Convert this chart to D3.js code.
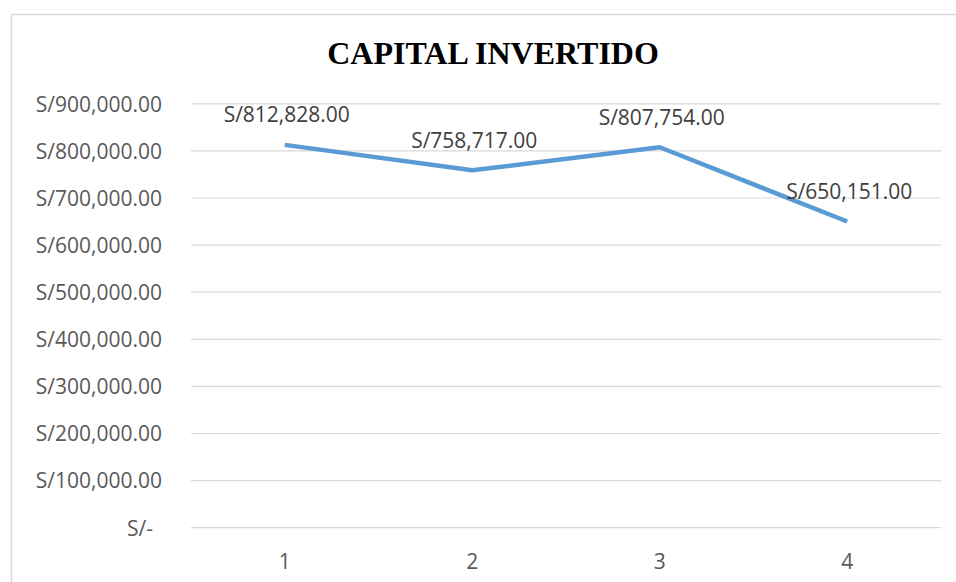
<!DOCTYPE html>
<html><head><meta charset="utf-8">
<script src="https://cdn.jsdelivr.net/npm/d3@7"></script>
<style>body{margin:0;background:#fff;} svg{display:block;}</style>
</head><body><svg id="c" width="956" height="582"></svg>
<script>
const title = "CAPITAL INVERTIDO";
const categories = ["1","2","3","4"];
const values = [812828, 758717, 807754, 650151];
const yTicks = [0,100000,200000,300000,400000,500000,600000,700000,800000,900000];

(function(){
const svg = d3.select("#c");
const pLeft = 191, pRight = 941, pTop = 103.8, pBottom = 527.7;
const font = "'Open Sans', sans-serif";
const fs = 21;

svg.append("rect").attr("x",11.5).attr("y",14.5).attr("width",970).attr("height",600)
  .attr("fill","#fff").attr("stroke","#d9d9d9").attr("stroke-width",1.5);

const x = d3.scaleBand().domain(categories).range([pLeft,pRight]);
const y = d3.scaleLinear().domain([0,900000]).range([pBottom,pTop]);

const fmt = v => v===0 ? "S/-" : "S/" + d3.format(",.2f")(v);

svg.append("g").selectAll("line").data(yTicks).join("line")
  .attr("x1",pLeft).attr("x2",pRight)
  .attr("y1",d=>y(d)).attr("y2",d=>y(d))
  .attr("stroke","#d9d9d9").attr("stroke-width",1.2);

const ya = svg.append("g").attr("transform",`translate(${pLeft-29},0)`)
  .call(d3.axisLeft(y).tickValues(yTicks).tickFormat(fmt).tickSize(0).tickPadding(0));
ya.select(".domain").remove();
ya.selectAll("text").attr("font-family",font).attr("font-size",fs).attr("fill","#595959")
  .attr("dy","0.35em");
ya.selectAll("text").filter(d=>d===0).attr("dx",-9);

const xa = svg.append("g").attr("transform",`translate(0,${pBottom})`)
  .call(d3.axisBottom(x).tickSize(0).tickPadding(0));
xa.select(".domain").remove();
xa.selectAll("text").attr("font-family",font).attr("font-size",fs).attr("fill","#595959")
  .attr("dy","0.35em").attr("y",34);

const line = d3.line().x((d,i)=>x(categories[i])+x.bandwidth()/2).y(d=>y(d));
svg.append("path").datum(values).attr("d",line).attr("fill","none")
  .attr("stroke","#5b9bd5").attr("stroke-width",4.5).attr("stroke-linejoin","round").attr("stroke-linecap","butt");

svg.append("g").selectAll("text").data(values).join("text")
  .attr("x",(d,i)=>x(categories[i])+x.bandwidth()/2+2)
  .attr("y",d=>y(d)-30).attr("dy","0.35em")
  .attr("text-anchor","middle").attr("font-family",font).attr("font-size",fs).attr("fill","#404040")
  .text(fmt);

svg.append("text").attr("x",493).attr("y",64).attr("text-anchor","middle")
  .attr("font-family","'Liberation Serif', 'Times New Roman', serif").attr("font-weight","bold")
  .attr("font-size",32).attr("fill","#000").text(title);
})();
</script></body></html>
